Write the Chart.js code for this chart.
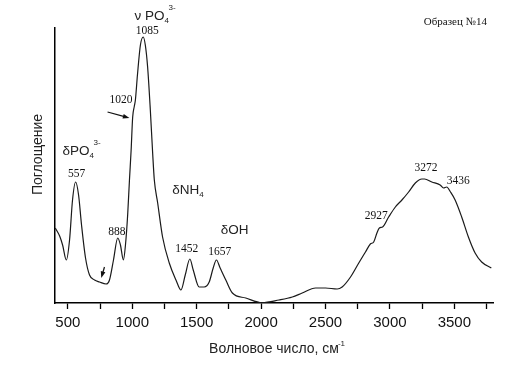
<!DOCTYPE html>
<html><head><meta charset="utf-8">
<script src="https://cdn.jsdelivr.net/npm/chart.js@4/dist/chart.umd.min.js"></script>
<style>html,body{margin:0;padding:0;background:#fff}canvas{display:block}</style>
</head><body>
<canvas id="c" width="529" height="366"></canvas>
<script>
// IR spectrum, sample No14 (wavenumber, cm-1 -> absorbance, arbitrary units)
const wavenumbers = [402,436,459,488,513,536,560,583,606,637,668,707,745,797,823,854,887,908,931,947,964,978,991,1003,1016,1024,1040,1063,1085,1101,1119,1140,1158,1171,1197,1235,1287,1339,1378,1411,1447,1473,1519,1558,1597,1628,1653,1682,1726,1777,1881,2007,2139,2242,2319,2423,2500,2590,2629,2694,2758,2810,2848,2874,2899,2918,2943,2990,3042,3093,3145,3197,3248,3269,3325,3390,3416,3441,3470,3506,3557,3609,3661,3712,3787];
const absorbance  = [75,67,58,43,63,103,121,108,78,45,28,23,21,19,23,43,65,58,43,58,88,123,153,186,197,203,228,258,266,258,236,193,150,123,100,66,40,23,13,28,44,33,16,16,21,35,43,35,23,10,5,0.3,3,6,10,15,15,14,16,26,40,51,59,61,70,75,76,86,96,103,111,120,124,124,121,118,115,116,111,103,86,66,50,41,35];
const xTickLabels = ['500','1000','1500','2000','2500','3000','3500'];
const peakLabels = ['1085','1020','557','888','1452','1657','2927','3272','3436'];
const peakWn     = [1117,912,567,881,1423,1678,2893,3280,3531];
const peakVal    = [272,203,129,71.5,54,51,87,135,122];
const groupLabels = ['ν PO', 'δPO', 'δNH', 'δOH'];
const groupSub    = ['4','4','4',''];
const groupSup    = ['3-','3-','',''];
const groupWn     = [1017,459,1310,1686];
const groupVal    = [287,152,113,73];
const sampleTitle = 'Образец №14';
const yTitle = 'Поглощение';
const xTitle = 'Волновое число, см';

const SANS = '"Liberation Sans", Arial, sans-serif';
const SERIF = '"Liberation Serif", "Times New Roman", serif';

const annot = {
  id: 'annot',
  afterDraw(chart) {
    const {ctx, scales: {x, y}} = chart;
    ctx.save();
    ctx.fillStyle = '#111';
    ctx.font = '11.5px ' + SERIF;
    ctx.textAlign = 'center'; ctx.textBaseline = 'middle';
    peakLabels.forEach((t, i) => ctx.fillText(t, x.getPixelForValue(peakWn[i]), y.getPixelForValue(peakVal[i])));
    ctx.font = '11px ' + SERIF;
    ctx.fillText(sampleTitle, x.getPixelForValue(3508), y.getPixelForValue(281));
    ctx.fillStyle = '#222';
    groupLabels.forEach((t, i) => {
      let px = x.getPixelForValue(groupWn[i]);
      const py = y.getPixelForValue(groupVal[i]);
      ctx.textAlign = 'left'; ctx.textBaseline = 'middle';
      ctx.font = '13.5px ' + SANS;
      ctx.fillText(t, px, py);
      px += ctx.measureText(t).width;
      ctx.font = '8px ' + SANS;
      if (groupSub[i]) ctx.fillText(groupSub[i], px, py + 5);
      if (groupSup[i]) ctx.fillText(groupSup[i], px + 4, py - 8);
    });
    // y-axis title
    ctx.save();
    ctx.translate(38, (chart.chartArea.top + chart.chartArea.bottom) / 2 - 11);
    ctx.rotate(-Math.PI / 2);
    ctx.font = '14px ' + SANS; ctx.textAlign = 'center'; ctx.textBaseline = 'middle';
    ctx.fillStyle = '#222';
    ctx.fillText(yTitle, 0, 0);
    ctx.restore();
    // x-axis title superscript
    const xs = chart.scales.x;
    ctx.font = '14px ' + SANS;
    const w = ctx.measureText(xTitle).width;
    const cx = (xs.left + xs.right) / 2;
    const ty = xs.bottom - 8 - 8.4;
    ctx.font = '8px ' + SANS;
    ctx.textAlign = 'left'; ctx.textBaseline = 'middle';
    ctx.fillText('-1', cx + w / 2 - 1, ty - 6);
    // arrows
    ctx.fillStyle = '#111';
    const arrow = (w1, v1, w2, v2, head) => {
      const x1 = x.getPixelForValue(w1), y1 = y.getPixelForValue(v1);
      const x2 = x.getPixelForValue(w2), y2 = y.getPixelForValue(v2);
      const a = Math.atan2(y2 - y1, x2 - x1);
      ctx.strokeStyle = '#111'; ctx.lineWidth = 1.2;
      ctx.beginPath(); ctx.moveTo(x1, y1); ctx.lineTo(x2 - head * 0.6 * Math.cos(a), y2 - head * 0.6 * Math.sin(a)); ctx.stroke();
      ctx.beginPath();
      ctx.moveTo(x2, y2);
      ctx.lineTo(x2 - head * Math.cos(a - 0.35), y2 - head * Math.sin(a - 0.35));
      ctx.lineTo(x2 - head * Math.cos(a + 0.35), y2 - head * Math.sin(a + 0.35));
      ctx.closePath(); ctx.fill();
    };
    arrow(808, 191, 978, 185, 7);
    arrow(784, 36, 759, 25, 7);
    ctx.restore();
  }
};

new Chart(document.getElementById('c'), {
  type: 'line',
  data: {
    datasets: [{
      data: wavenumbers.map((w, i) => ({x: w, y: absorbance[i]})),
      borderColor: '#1a1a1a', borderWidth: 1.2,
      pointRadius: 0, fill: false,
      cubicInterpolationMode: 'monotone'
    }]
  },
  options: {
    responsive: false, animation: false,
    layout: {padding: {top: 28, right: 36, left: 0, bottom: 0}},
    plugins: {legend: {display: false}, tooltip: {enabled: false}},
    scales: {
      x: {
        type: 'linear', min: 400, max: 3800,
        afterFit: s => { s.height = 63; },
        border: {display: true, color: '#000', width: 1.5},
        grid: {display: true, drawOnChartArea: false, drawTicks: true, tickLength: 6, tickColor: '#000', tickWidth: 1.3},
        ticks: {
          stepSize: 250, includeBounds: false, autoSkip: false, maxRotation: 0, padding: 5,
          color: '#111', font: {family: SANS, size: 15},
          callback: v => (v % 500 === 0 && xTickLabels.includes(String(v))) ? String(v) : ''
        },
        title: {display: true, text: xTitle, color: '#222', font: {family: SANS, size: 14}, padding: {top: 0, bottom: 8}}
      },
      y: {
        min: 0, max: 275,
        afterFit: s => { s.width = 55; },
        border: {display: true, color: '#000', width: 1.5},
        grid: {display: false},
        ticks: {display: false},
        title: {display: false}
      }
    }
  },
  plugins: [annot]
});
</script>
</body></html>
